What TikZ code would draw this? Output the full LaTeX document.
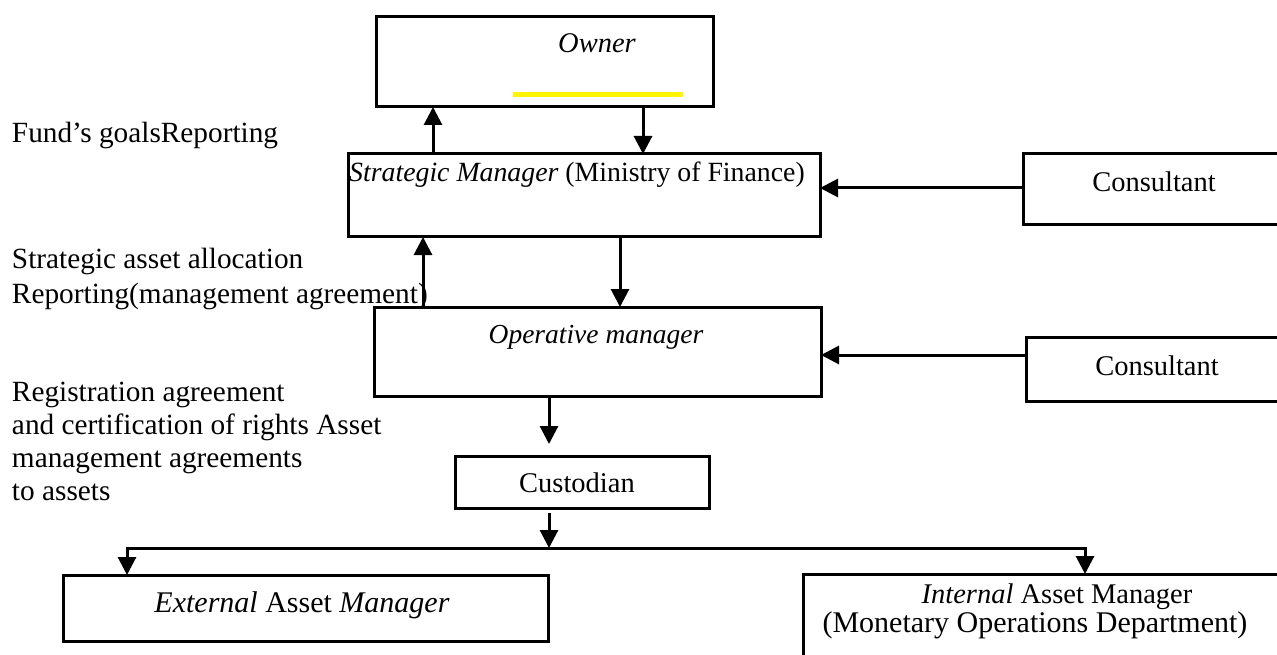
\documentclass[tikz,border=0pt]{standalone}
\usepackage{fontspec}
\setmainfont{Liberation Serif}
\usetikzlibrary{arrows.meta,fit}
\begin{document}
\begin{tikzpicture}[x=1pt,y=-1pt,
  box/.style={draw=black,line width=3pt,inner sep=0pt,outer sep=0pt,rectangle},
  lbl/.style={inner sep=0pt,outer sep=0pt,font=\fontsize{28.5}{34}\selectfont,text=black},
  side/.style={lbl,anchor=base west,font=\fontsize{29.3}{34}\selectfont},
  conn/.style={draw=black,line width=3pt},
  arr/.style={conn,-{Triangle[length=18pt,width=18pt]}},
  hilite/.style={draw={rgb,255:red,255;green,245;blue,0},line width=5pt}]
\useasboundingbox (0,0) rectangle (1277,655);
\clip (0,0) rectangle (1277,655);
\fill[white] (0,0) rectangle (1277,655);

% boxes
\node[box,fit={(376,17) (713,107)}] (owner) {};
\node[box,fit={(348,154) (820,237)}] (strat) {};
\node[box,fit={(1023,154) (1300,225)}] (cons1) {};
\node[box,fit={(374,307) (821,396)}] (oper) {};
\node[box,fit={(1026,337) (1300,401)}] (cons2) {};
\node[box,fit={(455,456) (709,508)}] (cust) {};
\node[box,fit={(63,575) (548,641)}] (ext) {};
\node[box,fit={(803,574) (1300,680)}] (int) {};

% box texts
\node[lbl,anchor=base] (ownert) at (597,53) {\textit{Owner}};
\draw[hilite] (513,95) -- (683,95);
\node[lbl,anchor=base,font=\fontsize{27.8}{34}\selectfont] (stratt) at (577,182) {\textit{Strategic Manager} (Ministry of Finance)};
\node[lbl,anchor=base] (cons1t) at (1154,192) {Consultant};
\node[lbl,anchor=base,font=\fontsize{27.5}{34}\selectfont] (opert) at (596,343) {\textit{Operative manager}};
\node[lbl,anchor=base] (cons2t) at (1157,375) {Consultant};
\node[lbl,anchor=base] (custt) at (577,492) {Custodian};
\node[lbl,anchor=base,font=\fontsize{30}{34}\selectfont] (extt) at (302,612) {\textit{External} Asset \textit{Manager}};
\node[lbl,anchor=base] (intt1) at (1057,603) {\textit{Internal} Asset Manager};
\node[lbl,anchor=base,font=\fontsize{30}{34}\selectfont] (intt2) at (1035,632) {(Monetary Operations Department)};

% left texts
\node[side] (t1) at (12,143) {Fund’s goalsReporting};
\node[side] (t2) at (12,268) {Strategic asset allocation};
\node[side] (t3) at (12,303) {Reporting(management agreement)};
\node[side] (t4) at (12,401) {Registration agreement};
\node[side] (t5) at (12,434) {and certification of rights Asset};
\node[side] (t6) at (12,467) {management agreements};
\node[side] (t7) at (12,500) {to assets};

% connectors
\draw[arr] (433,0 |- strat.north) -- (433,0 |- owner.south);
\draw[arr] (643,0 |- owner.south) -- (643,0 |- strat.north);
\draw[arr] (cons1.west |- 0,188) -- (strat.east |- 0,188);
\draw[arr] (423,0 |- oper.north) -- (423,0 |- strat.south);
\draw[arr] (620,0 |- strat.south) -- (620,0 |- oper.north);
\draw[arr] (cons2.west |- 0,355) -- (oper.east |- 0,355);
\draw[arr,shorten >=12pt] (549,0 |- oper.south) -- (549,0 |- cust.north);
\coordinate (bl) at (127,548);
\coordinate (br) at (1085,548);
\draw[arr,shorten <=5pt] (549,0 |- cust.south) -- (549,0 |- bl);
\draw[conn,{Triangle[length=18pt,width=18pt]}-{Triangle[length=18pt,width=18pt]}] (bl |- ext.north) -- (bl) -- (br) -- (br |- int.north);
\end{tikzpicture}
\end{document}
